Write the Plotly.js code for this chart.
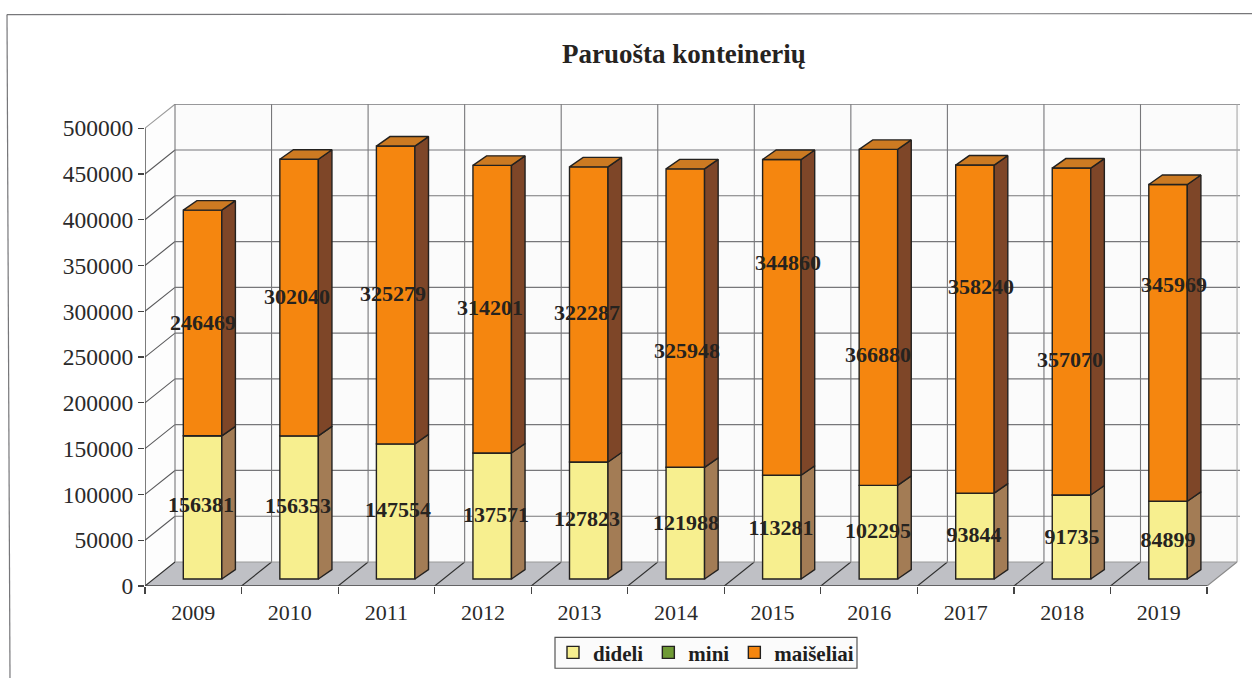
<!DOCTYPE html>
<html><head><meta charset="utf-8">
<script src="https://cdn.plot.ly/plotly-3.0.1.min.js"></script>
<style>html,body{margin:0;padding:0;background:#fff}</style></head>
<body><div id="chart" style="width:1252px;height:678px"></div>
<script>
const years = ['2009','2010','2011','2012','2013','2014','2015','2016','2017','2018','2019'];
const dideli = [156381,156353,147554,137571,127823,121988,113281,102295,93844,91735,84899];
const mini = [0,0,0,0,0,0,0,0,0,0,0];
const maiseliai = [246469,302040,325279,314201,322287,325948,344860,366880,358240,357070,345969];
const yTicks = [0,50000,100000,150000,200000,250000,300000,350000,400000,450000,500000];
// where the hand-placed value labels sit: x centre and y centre in page pixels
const labelTopX = [203,297,393,490,587,687,788,878,981,1070,1174];
const labelTopY = [324,298,295,309,314,352,264,356,288,361,286];
const labelLowX = [201,298,398,496,587,686,781,878,974,1072,1168];
const labelLowY = [506,507,511,516,520,524,529,532,536,538,541];

// page geometry
const W=1252,H=678,L=145,R=1240,T=103.5,B=585.7;
const pxPerCat=96.55, pxPerVal=0.000916*1;
const xOfPx=p=>(p-L)/pxPerCat;
const yOfPx=p=>(B-p)/pxPerVal;
const xMax=(R-L)/pxPerCat, yMax=(B-T)/pxPerVal;
const wallDx=30/pxPerCat, wallDy=24/pxPerVal;      // depth of the chart box
const barInsetX=38.3/pxPerCat, barW=38.5/pxPerCat; // front face of bars
const barBase=7/pxPerVal;
const barDx=13.6/pxPerCat, barDy=9.5/pxPerVal;     // depth of a bar
const n=years.length;
const idx=years.map((_,i)=>i);
const left=i=>i+barInsetX, right=i=>i+barInsetX+barW;
const total=idx.map(i=>dideli[i]+mini[i]+maiseliai[i]);

const edge='#23211f';
const frontBar=(name,vals,bases,color)=>({type:'bar',name,x:idx.map(i=>left(i)+barW/2),y:vals,base:bases,width:barW,
  marker:{color,line:{color:edge,width:1.4}},hoverinfo:'skip'});
const poly=(pts,color)=>{const xs=[],ys=[];pts.forEach(p=>{p.forEach(q=>{xs.push(q[0]);ys.push(q[1]);});xs.push(p[0][0],null);ys.push(p[0][1],null);});
  return {type:'scatter',mode:'lines',x:xs,y:ys,fill:'toself',fillcolor:color,line:{color:edge,width:1.4},showlegend:false,hoverinfo:'skip',cliponaxis:false};};
const side=(lo,hi)=>idx.map(i=>[[right(i),lo[i]+barBase],[right(i)+barDx,lo[i]+barBase+barDy],[right(i)+barDx,hi[i]+barBase+barDy],[right(i),hi[i]+barBase]]);
const topFace=idx.map(i=>[[left(i),total[i]+barBase],[left(i)+barDx,total[i]+barBase+barDy],[right(i)+barDx,total[i]+barBase+barDy],[right(i),total[i]+barBase]]);

const zeros=idx.map(()=>0);
const traces=[
  frontBar('dideli',dideli,idx.map(()=>barBase),'#f7ef8f'),
  frontBar('mini',mini,idx.map(i=>barBase+dideli[i]),'#6f9a35'),
  frontBar('maišeliai',maiseliai,idx.map(i=>barBase+dideli[i]+mini[i]),'#f5860f'),
  poly(side(zeros,dideli),'#a37c55'),
  poly(side(dideli,total),'#7e4628'),
  poly(topFace,'#cc7a22'),
  {type:'scatter',mode:'text',x:labelTopX.map(xOfPx),y:labelTopY.map(yOfPx),text:maiseliai.map(String),textposition:'middle center',
   textfont:{family:'"Liberation Serif",serif',size:22,color:'#26231f',weight:700},showlegend:false,hoverinfo:'skip',cliponaxis:false},
  {type:'scatter',mode:'text',x:labelLowX.map(xOfPx),y:labelLowY.map(yOfPx),text:dideli.map(String),textposition:'middle center',
   textfont:{family:'"Liberation Serif",serif',size:22,color:'#26231f',weight:700},showlegend:false,hoverinfo:'skip',cliponaxis:false}
];

const lineShape=(x0,y0,x1,y1,color,width)=>({type:'line',layer:'below',xref:'x',yref:'y',x0,y0,x1,y1,line:{color,width}});
const polyShape=(pts,fill)=>({type:'path',layer:'below',xref:'x',yref:'y',path:'M'+pts.map(p=>p.join(',')).join('L')+'Z',fillcolor:fill,line:{width:0}});
const catEdges=[...Array(n+1).keys()];
const shapes=[
  polyShape([[wallDx,wallDy],[xMax,wallDy],[xMax,yMax],[wallDx,yMax]],'#fbfbfb'),
  polyShape([[0,0],[wallDx,wallDy],[wallDx,yMax],[0,500000]],'#fdfdfd'),
  polyShape([[0,0],[n,0],[n+wallDx,wallDy],[wallDx,wallDy]],'#bfc0c5')
];
yTicks.slice(1).forEach(v=>{
  shapes.push(lineShape(wallDx,v+wallDy,xMax,v+wallDy,'#77777a',1.2));
  shapes.push(lineShape(0,v,wallDx,v+wallDy,v===500000?'#9a9a9a':'#58585a',1.1));
});
catEdges.forEach(k=>{
  shapes.push(lineShape(k+wallDx,wallDy,k+wallDx,500000+wallDy,k===n?'#a8a8a8':'#77777a',1.1));
  shapes.push(lineShape(k,0,k+wallDx,wallDy,k===n?'#8a8a8a':'#2f2f2f',1.1));
});
shapes.push(lineShape(wallDx,wallDy,n+wallDx,wallDy,'#9a9a9a',1));
shapes.push(lineShape(0,0,0,500000,'#444',1.4));
shapes.push(lineShape(0,0,n,0,'#444',1.4));
// scanned page frame
const px=p=>(p-L)/(R-L), py=p=>(B-p)/(B-T);
shapes.push({type:'line',xref:'paper',yref:'paper',x0:px(7),y0:py(14),x1:px(1252),y1:py(13),line:{color:'#77777a',width:1.2}});
shapes.push({type:'line',xref:'paper',yref:'paper',x0:px(7),y0:py(14),x1:px(10),y1:py(678),line:{color:'#77777a',width:1.2}});
// legend box
shapes.push({type:'rect',xref:'paper',yref:'paper',x0:px(555),y0:py(637),x1:px(857),y1:py(668),fillcolor:'#fbfbfb',line:{color:'#555',width:1.2}});

const serif='"Liberation Serif",serif';
const layout={width:W,height:H,margin:{l:L,r:W-R,t:T,b:H-B,pad:0,autoexpand:false},paper_bgcolor:'#fff',plot_bgcolor:'#fff',
  barmode:'overlay',showlegend:true,shapes,
  title:{text:'<b>Paruošta konteinerių</b>',font:{family:serif,size:27,color:'#26231f'},x:684/W,xref:'container',xanchor:'center',y:1-54/H,yref:'container',yanchor:'middle'},
  xaxis:{range:[0,xMax],tickmode:'array',tickvals:idx.map(i=>i+0.5),ticktext:years,ticks:'',showgrid:false,zeroline:false,showline:false,automargin:false,
    tickfont:{family:serif,size:22,color:'#2a2a2a'},ticklabelstandoff:11,
    minor:{tickmode:'array',tickvals:catEdges,ticks:'outside',ticklen:7,tickwidth:1.2,tickcolor:'#444',showgrid:false}},
  yaxis:{range:[0,yMax],tickmode:'array',tickvals:yTicks,ticktext:yTicks.map(String),ticks:'outside',ticklen:6,tickwidth:1.2,tickcolor:'#444',automargin:false,
    showgrid:false,zeroline:false,showline:false,tickfont:{family:serif,size:23.5,color:'#2a2a2a'}},
  legend:{orientation:'h',x:px(706),xanchor:'center',y:py(652.5),yanchor:'middle',bgcolor:'rgba(0,0,0,0)',borderwidth:0,
    font:{family:serif,size:21,color:'#1f1f1f',weight:700},traceorder:'normal',itemclick:false,itemdoubleclick:false}
};
Plotly.newPlot('chart',traces,layout,{displayModeBar:false,staticPlot:true});
</script></body></html>
